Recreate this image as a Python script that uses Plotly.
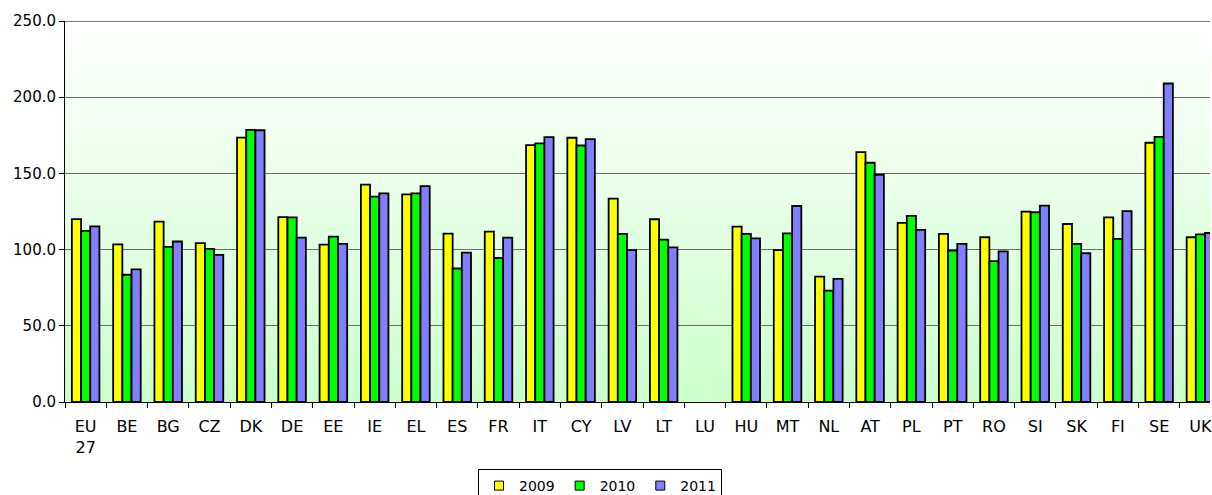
import plotly.graph_objects as go

# Countries and their display labels
categories = ["EU27", "BE", "BG", "CZ", "DK", "DE", "EE", "IE", "EL", "ES", "FR", "IT",
              "CY", "LV", "LT", "LU", "HU", "MT", "NL", "AT", "PL", "PT", "RO", "SI",
              "SK", "FI", "SE", "UK"]
tick_labels = ["EU<br>27"] + categories[1:]

# Index values per year (LU not available)
values_2009 = [120.0, 103.4, 118.4, 104.2, 173.5, 121.3, 103.3, 142.6, 136.2, 110.5,
               111.8, 168.6, 173.4, 133.4, 119.9, None, 115.1, 99.6, 82.3, 164.0,
               117.6, 110.3, 108.1, 124.9, 116.8, 121.2, 170.1, 108.1]
values_2010 = [112.3, 83.5, 101.8, 100.5, 178.5, 121.1, 108.5, 134.7, 136.9, 87.6,
               94.5, 169.7, 168.3, 110.3, 106.6, None, 110.3, 110.7, 73.1, 157.0,
               122.1, 99.3, 92.4, 124.5, 103.7, 107.0, 174.0, 110.0]
values_2011 = [115.2, 87.0, 105.3, 96.6, 178.3, 107.8, 103.7, 136.9, 141.7, 98.0,
               107.9, 173.8, 172.5, 99.6, 101.5, None, 107.4, 128.6, 80.8, 149.1,
               113.0, 103.7, 98.9, 128.8, 97.6, 125.3, 209.0, 110.9]

years = ["2009", "2010", "2011"]
series = [values_2009, values_2010, values_2011]
colors = ["#FFFF00", "#00FF00", "#8080FF"]

Y_MAX = 250
W, H = 1212, 495
ML, MT, MB = 65, 21, 93
cat_px = 41.36  # width of one category slot
x_hi = -0.5 + (W - ML) / cat_px

fig = go.Figure()
for name, vals, col in zip(years, series, colors):
    fig.add_trace(go.Bar(
        x=categories, y=vals, name=name, showlegend=False,
        marker=dict(color=col, line=dict(color="#000000", width=1.8)),
    ))
    # legend swatch
    fig.add_trace(go.Scatter(
        x=[None], y=[None], mode="markers", name=name,
        marker=dict(symbol="square", size=9, color=col,
                    line=dict(color="#000000", width=1)),
    ))

# vertical white-to-green gradient behind the plot area
n_bands = 90
shapes = []
for i in range(n_bands):
    t = i / (n_bands - 1)  # 0 at bottom, 1 at top
    r = round(204 + (255 - 204) * t)
    shapes.append(dict(
        type="rect", xref="paper", yref="paper", layer="below",
        x0=0, x1=1, y0=i / n_bands, y1=min(1, (i + 1.6) / n_bands),
        line=dict(width=0), fillcolor=f"rgb({r},255,{r})",
    ))
# top grid line at the axis maximum
shapes.append(dict(
    type="line", xref="paper", yref="y", layer="below",
    x0=0, x1=1, y0=Y_MAX, y1=Y_MAX,
    line=dict(color="#7a7a7a", width=2),
))

fig.update_layout(
    width=W, height=H,
    margin=dict(l=ML, r=0, t=MT, b=MB, pad=0),
    paper_bgcolor="#ffffff", plot_bgcolor="#ffffff",
    barmode="group", bargap=0.333, bargroupgap=0,
    font=dict(family="DejaVu Sans, Verdana, sans-serif", color="#000000", size=15),
    shapes=shapes,
    showlegend=True,
    legend=dict(
        orientation="h", xref="container", yref="container",
        x=600 / W, xanchor="center", y=1 - 469 / H, yanchor="top",
        bordercolor="#000000", borderwidth=1, bgcolor="#ffffff",
        font=dict(size=14), itemwidth=30, tracegroupgap=0,
    ),
)

fig.update_xaxes(
    type="category", categoryorder="array", categoryarray=categories,
    tickvals=categories, ticktext=tick_labels,
    range=[-0.5, x_hi],
    showline=True, linecolor="#000000", linewidth=1,
    ticks="outside", tickson="boundaries", ticklen=5, tickcolor="#000000",
    ticklabelstandoff=10,
    tickfont=dict(size=16), showgrid=False,
)
fig.update_yaxes(
    range=[0, Y_MAX], dtick=50, tickformat=".1f",
    showline=True, linecolor="#000000", linewidth=1,
    ticks="outside", ticklen=5, tickcolor="#000000",
    showgrid=True, gridcolor="#6a6a6a", gridwidth=1.3,
    zeroline=False, tickfont=dict(size=15),
)

fig.write_html("out.html")
